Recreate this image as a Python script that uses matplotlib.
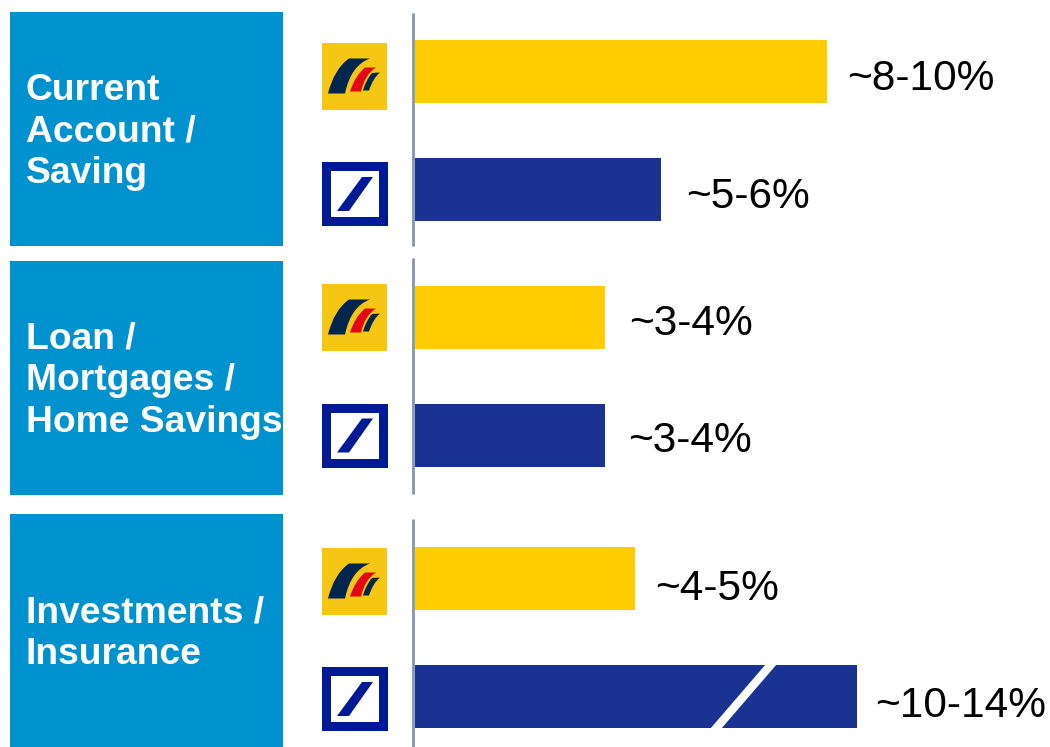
import matplotlib
matplotlib.use('Agg')
import matplotlib.pyplot as plt
from matplotlib.patches import Rectangle, Polygon, PathPatch
from matplotlib.path import Path

# category boxes, text is split by lines
categories = ['Current\nAccount /\nSaving', 'Loan /\nMortgages /\nHome Savings', 'Investments /\nInsurance']
# bar lengths in pixels of the picture, the bars are not really to scale
post_values = [412, 190, 220]
db_values = [246, 190, 442]
post_labels = ['~8-10%', '~3-4%', '~4-5%']
db_labels = ['~5-6%', '~3-4%', '~10-14%']

BLUE = '#0091CF'
YELLOW = '#FFCC00'
NAVY = '#1A3291'

box_tops = [12, 261, 514]
box_h = [234, 234, 233]
post_y = [71.5, 317.5, 578]
db_y = [189.5, 435.5, 696]
logo_post_y = [76.5, 317.5, 581.5]
logo_db_y = [194, 435.5, 699]
post_text_y = [79, 324, 589]
db_text_y = [197, 441, 706]
post_text_x = [847, 629, 655]
db_text_x = [686, 628, 875]
text_y = [132, 381, 634]
axis_spans = [(13, 246), (258, 494), (519, 747)]


def post_logo(ax, yc):
    y0 = yc - 33.5
    ax.add_patch(Rectangle((322, y0), 65, 67, fc='#F5C614', ec='none'))
    codes = [Path.MOVETO, Path.CURVE3, Path.CURVE3, Path.LINETO, Path.CURVE3, Path.CURVE3, Path.CLOSEPOLY]
    shapes = [
        ([(328, 50.5), (334, 26), (349, 15.5), (370, 15.5), (351, 22), (345, 50.5), (328, 50.5)], '#00254F'),
        ([(350, 48.5), (355, 33), (365, 24.5), (376, 24.5), (365, 31), (361, 48.5), (350, 48.5)], '#E30613'),
        ([(363, 47.5), (366, 37), (372, 30), (380, 29.5), (373, 35), (369, 47.5), (363, 47.5)], '#00254F'),
    ]
    for pts, col in shapes:
        pts = [(x, y0 + y) for x, y in pts]
        ax.add_patch(PathPatch(Path(pts, codes), fc=col, ec='none'))


def db_logo(ax, yc):
    ax.add_patch(Rectangle((322, yc - 32), 66, 64, fc='#001A96', ec='none'))
    ax.add_patch(Rectangle((331, yc - 23), 48, 46, fc='white', ec='none'))
    ax.add_patch(Polygon([(337, yc + 17), (349, yc + 17), (373, yc - 17), (362, yc - 17)], fc='#001A96', ec='none'))


fig = plt.figure(figsize=(10.5, 7.47), dpi=100)
ax = fig.add_axes([0, 0, 1, 1])
ax.set_xlim(0, 1050)
ax.set_ylim(747, 0)
ax.axis('off')

for i in range(3):
    ax.add_patch(Rectangle((10, box_tops[i]), 273, box_h[i], fc=BLUE, ec='none'))
    ax.text(25.5, text_y[i], categories[i], color='white', fontsize=26.8, fontweight='bold',
            family='Liberation Sans', va='center', ha='left', linespacing=1.245)
    ax.plot([413, 413], axis_spans[i], color='#8497B0', lw=2, solid_capstyle='butt', zorder=3)

    ax.barh(post_y[i], post_values[i], height=63, left=415, color=YELLOW)
    ax.barh(db_y[i], db_values[i], height=63, left=415, color=NAVY)

    ax.text(post_text_x[i], post_text_y[i], post_labels[i], fontsize=30.5, family='Liberation Sans', va='center')
    ax.text(db_text_x[i], db_text_y[i], db_labels[i], fontsize=30.5, family='Liberation Sans', va='center')

    post_logo(ax, logo_post_y[i])
    db_logo(ax, logo_db_y[i])

# axis break on the long bar
ax.add_patch(Polygon([(710, 729), (721, 729), (777, 664), (766, 664)], fc='white', ec='none', zorder=4))

fig.savefig('out.png', dpi=100)
